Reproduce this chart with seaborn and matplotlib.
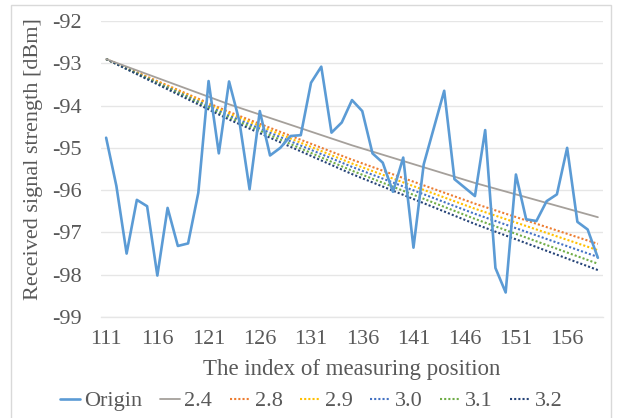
import matplotlib
matplotlib.use("Agg")
import matplotlib.pyplot as plt
import seaborn as sns
import numpy as np
import pandas as pd
from matplotlib.lines import Line2D
from matplotlib.patches import Rectangle

# ---- data ----
positions = list(range(111, 160))
origin = [-94.76, -95.90, -97.50, -96.23, -96.38, -98.02, -96.42, -97.32, -97.26, -96.06,
          -93.42, -95.13, -93.43, -94.36, -95.98, -94.13, -95.18, -95.00, -94.72, -94.70,
          -93.46, -93.08, -94.64, -94.40, -93.87, -94.13, -95.13, -95.35, -96.04, -95.23,
          -97.36, -95.39, -94.52, -93.65, -95.74, -95.94, -96.14, -94.58, -97.84, -98.42,
          -95.63, -96.69, -96.73, -96.26, -96.10, -95.00, -96.75, -96.93, -97.60]

model_pos = [111, 123, 135, 147, 159]
model_24 = [-92.90, -93.97, -94.94, -95.83, -96.64]
model_28 = [-92.90, -94.15, -95.28, -96.32, -97.27]
model_29 = [-92.90, -94.19, -95.37, -96.44, -97.42]
model_30 = [-92.90, -94.24, -95.45, -96.56, -97.58]
model_31 = [-92.90, -94.28, -95.54, -96.68, -97.74]
model_32 = [-92.90, -94.33, -95.62, -96.80, -97.89]
model_labels = ["2.4", "2.8", "2.9", "3.0", "3.1", "3.2"]

x_ticks = [111, 116, 121, 126, 131, 136, 141, 146, 151, 156]
y_ticks = [-99, -98, -97, -96, -95, -94, -93, -92]

# ---- style ----
sns.set_theme(style="white")
plt.rcParams['font.family'] = ['Liberation Serif', 'DejaVu Serif']
plt.rcParams['axes.unicode_minus'] = False

W, H = 625, 418
fig = plt.figure(figsize=(W / 100, H / 100), dpi=100)
fig.patch.set_facecolor("white")
# chart-area border
fig.add_artist(Rectangle((11 / W, -0.05), (611 - 11) / W, 1.05 - 5 / H,
                         transform=fig.transFigure, fill=False,
                         edgecolor="#d9d9d9", lw=1.0))

L, R, T, B = 101, 603, 21, 317
ax = fig.add_axes([L / W, 1 - B / H, (R - L) / W, (B - T) / H])

text_color = "#595959"
colors = ["#A5A09B", "#ED7D31", "#FFC000", "#4472C4", "#70AD47", "#264478"]
models = [model_24, model_28, model_29, model_30, model_31, model_32]

df_origin = pd.DataFrame({"pos": positions, "rss": origin})
sns.lineplot(data=df_origin, x="pos", y="rss", ax=ax, color="#5B9BD5", lw=1.9, zorder=5)

for i, (vals, col) in enumerate(zip(models, colors)):
    d = pd.DataFrame({"pos": model_pos, "rss": vals})
    if i == 0:
        sns.lineplot(data=d, x="pos", y="rss", ax=ax, color=col, lw=1.3, zorder=4)
    else:
        sns.lineplot(data=d, x="pos", y="rss", ax=ax, color=col, lw=1.5,
                     linestyle=(0, (1, 1)), zorder=3)

ax.set_xlim(110.5, 159.5)
ax.set_ylim(-99, -92)
ax.set_xticks(x_ticks)
ax.set_xticklabels([str(t) for t in x_ticks])
ax.set_yticks(y_ticks)
ax.set_yticklabels([str(t) for t in y_ticks])
ax.tick_params(axis="both", length=0, labelsize=16, colors=text_color)
ax.tick_params(axis="x", pad=9)
ax.tick_params(axis="y", pad=14)
ax.grid(axis="y", color="#e6e6e6", lw=1.0)
for s in ["top", "right", "left"]:
    ax.spines[s].set_visible(False)
ax.spines["bottom"].set_color("#e6e6e6")
ax.spines["bottom"].set_linewidth(1.0)

ax.set_xlabel("The index of measuring position", fontsize=16.5, color=text_color)
ax.set_ylabel("Received signal strength [dBm]", fontsize=16, color=text_color)
ax.xaxis.set_label_coords((352 - L) / (R - L), -(369 - B) / (B - T))
ax.xaxis.label.set_va("center")
ax.yaxis.set_label_coords(-(101 - 34) / (R - L), (B - 159) / (B - T))
ax.yaxis.label.set_va("center")

handles = [Line2D([0], [0], color="#5B9BD5", lw=1.9)]
handles.append(Line2D([0], [0], color=colors[0], lw=1.3))
for col in colors[1:]:
    handles.append(Line2D([0], [0], color=col, lw=1.5, linestyle=(0, (1, 1))))
labels = ["Origin"] + model_labels
fig.legend(handles, labels, loc="center", bbox_to_anchor=(311 / W, 1 - 401 / H),
           ncol=7, frameon=False, fontsize=16, handlelength=0.9, handletextpad=0.2,
           columnspacing=0.8, labelcolor=text_color, borderpad=0)

fig.savefig("out.png", dpi=100, facecolor="white")
